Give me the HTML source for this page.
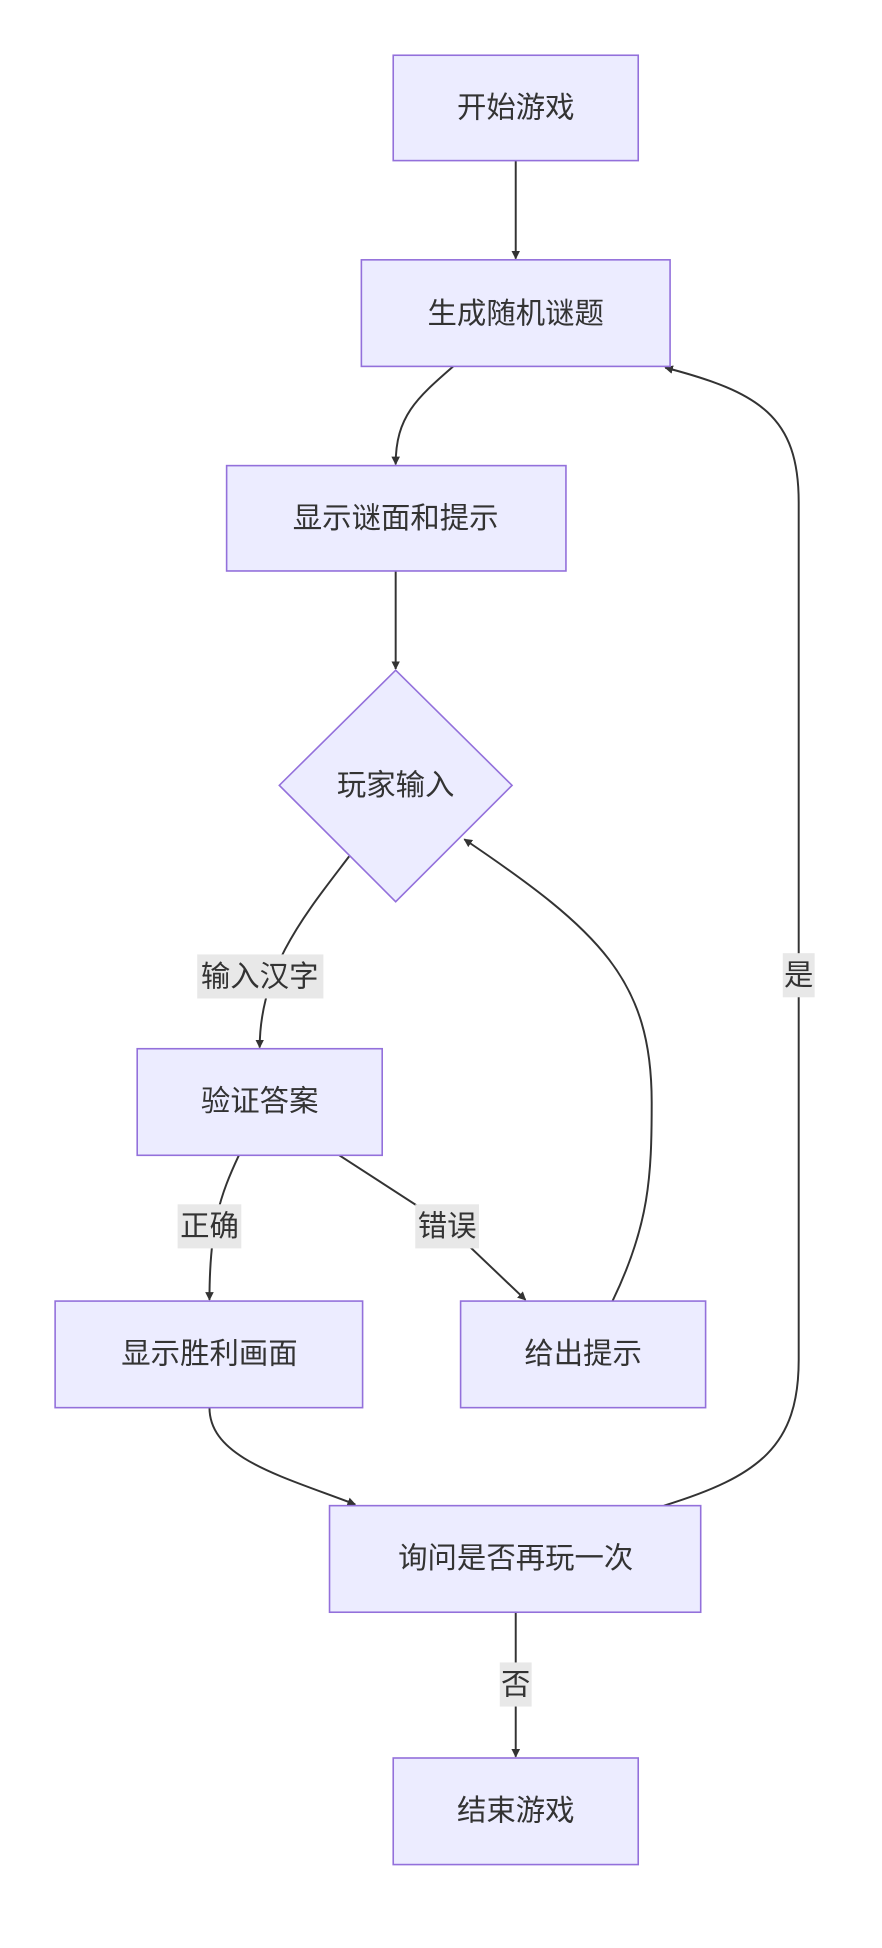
<!DOCTYPE html>
<html><head><meta charset="utf-8"><style>
html,body{margin:0;padding:0;background:#fff;}
svg{display:block;}
text{font-family:"Liberation Sans","Noto Sans CJK SC",sans-serif;fill:#333;}
</style></head><body>
<svg width="882" height="1948" viewBox="0 0 720 1590" xmlns="http://www.w3.org/2000/svg">
<defs>
<marker id="a" viewBox="0 0 10 10" refX="9" refY="5" markerWidth="7" markerHeight="7" orient="auto-start-reverse" markerUnits="userSpaceOnUse" >
<path d="M0,0 L10,5 L0,10 z" fill="#333"/></marker>
</defs>
<g fill="none" stroke="#333" stroke-width="1.6">
<path d="M421,131 L421,211" marker-end="url(#a)"/>
<path d="M370,299 C340,325 323,340 323,379" marker-end="url(#a)"/>
<path d="M323,466 L323,546" marker-end="url(#a)"/>
<path d="M285,699 C250,745 212,790 212,855" marker-end="url(#a)"/>
<path d="M195,943 C180,975 171,1000 171,1061" marker-end="url(#a)"/>
<path d="M277,943 L365,1000 L429,1061" marker-end="url(#a)"/>
<path d="M500,1062 C530,1000 532,960 532,900 C532,800 490,760 379,685" marker-end="url(#a)"/>
<path d="M171,1149 C171,1190 230,1205 290,1228" marker-end="url(#a)"/>
<path d="M542,1229 C620,1205 652,1180 652,1110 L652,410 C652,340 620,320 543,300" marker-end="url(#a)"/>
<path d="M421,1316 L421,1434" marker-end="url(#a)"/>
</g>
<g fill="#ECECFF" stroke="#9370DB" stroke-width="1.3">
<rect x="321" y="45" width="200" height="86"/>
<rect x="295" y="212" width="252" height="87"/>
<rect x="185" y="380" width="277" height="86"/>
<polygon points="323,547 418,641 323,736 228,641"/>
<rect x="112" y="856" width="200" height="87"/>
<rect x="45" y="1062" width="251" height="87"/>
<rect x="376" y="1062" width="200" height="87"/>
<rect x="269" y="1229" width="303" height="87"/>
<rect x="321" y="1435" width="200" height="87"/>
</g>
<g fill="#e8e8e8">
<rect x="161" y="779" width="103" height="36"/>
<rect x="145" y="983" width="52" height="36"/>
<rect x="339" y="983" width="52" height="36"/>
<rect x="639" y="778" width="26" height="36"/>
<rect x="408" y="1357" width="26" height="36"/>
</g>
<g font-size="24" text-anchor="middle">
<text x="421" y="96">开始游戏</text>
<text x="421" y="264">生成随机谜题</text>
<text x="323" y="431">显示谜面和提示</text>
<text x="323" y="649">玩家输入</text>
<text x="212" y="907">验证答案</text>
<text x="171" y="1113">显示胜利画面</text>
<text x="476" y="1113">给出提示</text>
<text x="421" y="1280">询问是否再玩一次</text>
<text x="421" y="1486">结束游戏</text>
<text x="212" y="805">输入汉字</text>
<text x="171" y="1009">正确</text>
<text x="365" y="1009">错误</text>
<text x="652" y="804">是</text>
<text x="421" y="1383">否</text>
</g>
</svg>
</body></html>
